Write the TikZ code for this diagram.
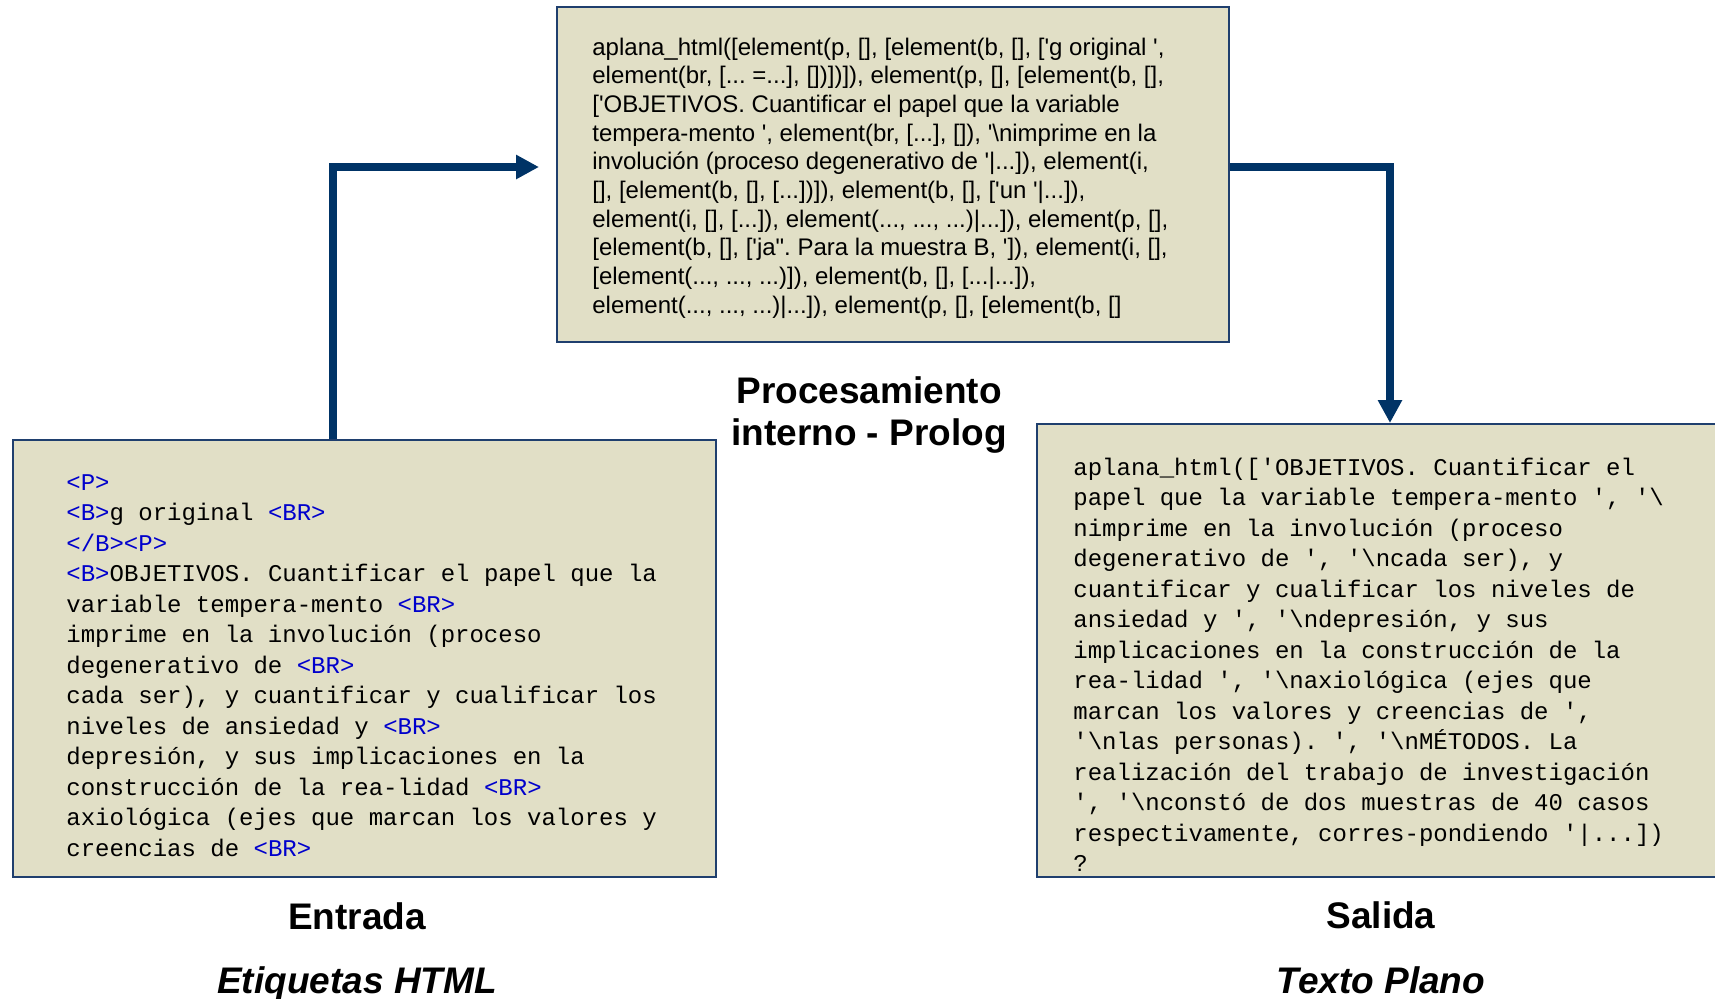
\documentclass[tikz,border=0pt]{standalone}
\usepackage{fontspec}
\setmainfont{Liberation Sans}[Ligatures=TeXOff]
\setmonofont{Liberation Mono}
\usepackage{tikz}
\usetikzlibrary{arrows.meta}
\usetikzlibrary{positioning}
\definecolor{boxfill}{RGB}{225,223,198}
\definecolor{boxline}{RGB}{31,63,110}
\definecolor{flowblue}{RGB}{0,51,102}
\definecolor{tagblue}{RGB}{0,0,204}
\tikzset{box/.style = {rectangle, draw=boxline, line width=1pt, fill=boxfill, inner sep=0}}
\tikzset{code/.style = {anchor=base west, inner sep=0, align=flush left, text width=330pt,
                        font={\fontsize{12}{15.25}\selectfont\ttfamily\frenchspacing}}}
\tikzset{prosa/.style = {anchor=base west, inner sep=0, align=flush left, text width=330pt,
                         font={\fontsize{12}{14.35}\selectfont\frenchspacing}}}
\tikzset{etiq/.style = {anchor=base, inner sep=0, align=center,
                        font=\fontsize{18.5}{20.8}\selectfont\bfseries}}
\tikzset{etiqit/.style = {etiq, font=\fontsize{18.5}{20.8}\selectfont\bfseries\itshape}}
\tikzset{flow/.style = {draw=flowblue, line width=4pt, -{Triangle[length=11.5pt,width=11.5pt]}}}
\newcommand{\htag}[1]{\textcolor{tagblue}{#1}}

\begin{document}
\begin{tikzpicture}[x=0.5pt, y=-0.5pt]
    \useasboundingbox (0,0) rectangle (1715,998);

    % cajas
    \node [box, minimum width=336pt, minimum height=167.5pt] (prolog) at (893,174.5) {};
    \node [box, minimum width=351.5pt, minimum height=218.5pt] (entrada) at (364.5,658.5) {};
    \node [box, minimum width=346.5pt, minimum height=226.5pt] (salida) at (1383.5,650.5) {};

    % flechas
    \coordinate (subida) at (333,167);
    \coordinate (bajada) at (1390,167);
    \draw [flow, shorten >=8.5pt] (entrada.north -| subida) |- (prolog.west |- subida);
    \draw [flow] (prolog.east |- bajada) -| (salida.north -| bajada);

    \node [prosa] (prologTxt) at (592,55) {aplana\_html([element(p, [], [element(b, [], ['g original ',\\
        element(br, [... =...], [])])]), element(p, [], [element(b, [],\\
        {[}'OBJETIVOS. Cuantificar el papel que la variable\\
        tempera-mento ', element(br, [...], []), '\textbackslash nimprime en la\\
        involución (proceso degenerativo de '|...]), element(i,\\
        {[}], [element(b, [], [...])]), element(b, [], ['un '|...]),\\
        element(i, [], [...]), element(..., ..., ...)|...]), element(p, [],\\
        {[}element(b, [], ['ja". Para la muestra B, ']), element(i, [],\\
        {[}element(..., ..., ...)]), element(b, [], [...|...]),\\
        element(..., ..., ...)|...]), element(p, [], [element(b, []};

    \node [code] (entradaTxt) at (66,490) {\htag{<P>}\\
        \htag{<B>}g original \htag{<BR>}\\
        \htag{</B><P>}\\
        \htag{<B>}OBJETIVOS. Cuantificar el papel que la\\
        variable tempera-mento \htag{<BR>}\\
        imprime en la involución (proceso\\
        degenerativo de \htag{<BR>}\\
        cada ser), y cuantificar y cualificar los\\
        niveles de ansiedad y \htag{<BR>}\\
        depresión, y sus implicaciones en la\\
        construcción de la rea-lidad \htag{<BR>}\\
        axiológica (ejes que marcan los valores y\\
        creencias de \htag{<BR>}};

    \node [code] (salidaTxt) at (1073,475) {aplana\_html(['OBJETIVOS. Cuantificar el\\
        papel que la variable tempera-mento ', '\textbackslash\\
        nimprime en la involución (proceso\\
        degenerativo de ', '\textbackslash ncada ser), y\\
        cuantificar y cualificar los niveles de\\
        ansiedad y ', '\textbackslash ndepresión, y sus\\
        implicaciones en la construcción de la\\
        rea-lidad ', '\textbackslash naxiológica (ejes que\\
        marcan los valores y creencias de ',\\
        '\textbackslash nlas personas). ', '\textbackslash nMÉTODOS. La\\
        realización del trabajo de investigación\\
        ', '\textbackslash nconstó de dos muestras de 40 casos\\
        respectivamente, corres-pondiendo '|...])\\
        ?};

    \node [etiq] (procLbl) at (869,445) {Procesamiento\\interno - Prolog};
    \node [etiq] (entradaLbl) at (357,929) {Entrada};
    \node [etiqit] (htmlLbl) at (357,993) {Etiquetas HTML};
    \node [etiq] (salidaLbl) at (1381,928) {Salida};
    \node [etiqit] (planoLbl) at (1381,993) {Texto Plano};
\end{tikzpicture}
\end{document}
